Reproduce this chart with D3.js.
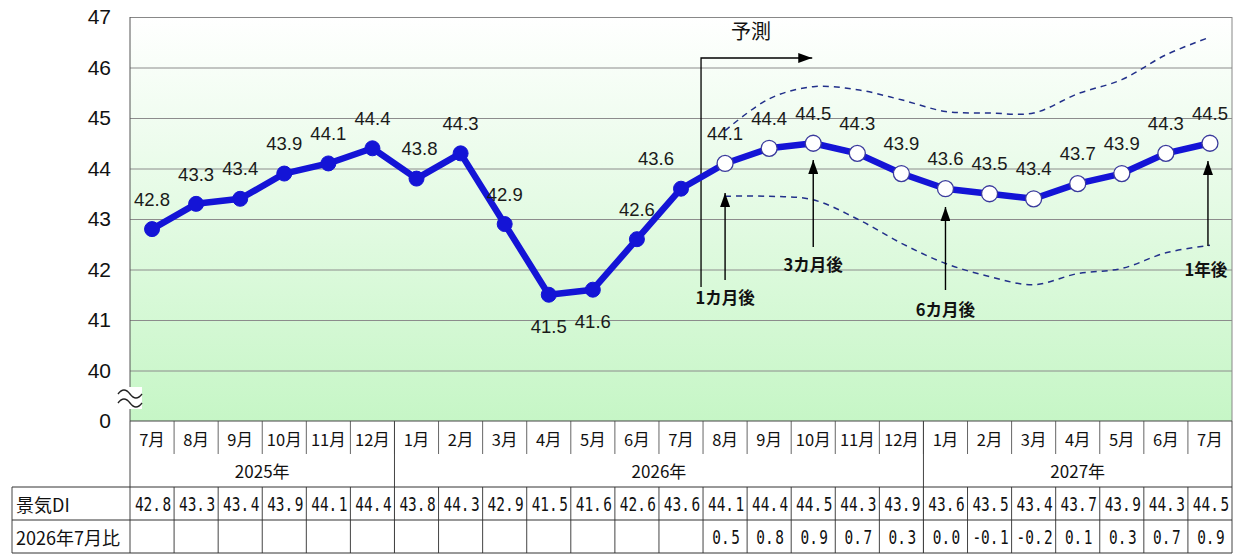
<!DOCTYPE html>
<html><head><meta charset="utf-8">
<script src="https://cdn.jsdelivr.net/npm/d3@7"></script>
<style>body{margin:0;background:#fff;} svg{display:block;}</style>
</head><body>
<svg id="c" width="1240" height="557"></svg>
<script>
// ---------- data ----------
const months = ["7月","8月","9月","10月","11月","12月","1月","2月","3月","4月","5月","6月","7月","8月","9月","10月","11月","12月","1月","2月","3月","4月","5月","6月","7月"];
const years = ["2025年","2026年","2027年"];
const yearSpans = [6, 12, 7];
const actualDI = [42.8,43.3,43.4,43.9,44.1,44.4,43.8,44.3,42.9,41.5,41.6,42.6,43.6];
const forecastDI = [44.1,44.4,44.5,44.3,43.9,43.6,43.5,43.4,43.7,43.9,44.3,44.5];
const ratioVs202607 = [null,null,null,null,null,null,null,null,null,null,null,null,null,0.5,0.8,0.9,0.7,0.3,0.0,-0.1,-0.2,0.1,0.3,0.7,0.9];
const upperBand = [44.75,45.38,45.62,45.56,45.36,45.13,45.1,45.1,45.48,45.76,46.25,46.6];
const lowerBand = [43.45,43.45,43.38,43.0,42.52,42.12,41.86,41.7,41.92,42.02,42.33,42.48];
const yTickValues = [39,40,41,42,43,44,45,46,47];
const yTickLabels = ["0","40","41","42","43","44","45","46","47"];
const rowLabels = ["景気DI","2026年7月比"];
const forecastLabel = "予測";
const horizonLabels = ["1カ月後","3カ月後","6カ月後","1年後"];
const horizonIndex = [13,15,18,24];

// ---------- layout ----------
const svg = d3.select("#c");
const L = 130, R = 1232, T = 17, B = 421;
const allDI = actualDI.concat(forecastDI);
const nA = actualDI.length;
const bandStart = nA;
const x = d3.scaleBand().domain(d3.range(months.length)).range([L, R]);
const y = d3.scaleLinear().domain([39, 47]).range([B, T]);
const cx = i => x(i) + x.bandwidth() / 2;
const latin = "'Liberation Sans', Arial, sans-serif";
const jp = "'Noto Sans CJK JP', sans-serif";
const mono = "'DejaVu Sans Mono', 'Liberation Mono', monospace";
const blue = "#1414d6";

const defs = svg.append("defs");
const grad = defs.append("linearGradient").attr("id", "bg")
  .attr("x1", 0).attr("y1", 0).attr("x2", 0).attr("y2", 1);
grad.append("stop").attr("offset", "0%").attr("stop-color", "#ffffff");
grad.append("stop").attr("offset", "100%").attr("stop-color", "#c6f6c6");
defs.append("marker").attr("id", "ah").attr("viewBox", "0 0 14 10")
  .attr("refX", 14).attr("refY", 5).attr("markerWidth", 14).attr("markerHeight", 10)
  .attr("markerUnits", "userSpaceOnUse").attr("orient", "auto")
  .append("path").attr("d", "M0,0 L14,5 L0,10 Z").attr("fill", "#000");

// plot background
svg.append("rect").attr("x", L).attr("y", T).attr("width", R - L).attr("height", B - T)
  .attr("fill", "url(#bg)");

// gridlines
svg.append("g").attr("transform", `translate(${L},0)`)
  .call(d3.axisLeft(y).tickValues(yTickValues.filter(v => v > 39 && v < 47)).tickSize(-(R - L)).tickFormat(""))
  .call(g => g.select(".domain").remove())
  .call(g => g.selectAll("line").attr("stroke", "#8c8c8c").attr("stroke-width", 1));

// borders
svg.append("line").attr("x1", L).attr("x2", R).attr("y1", T + 0.5).attr("y2", T + 0.5).attr("stroke", "#888");
svg.append("line").attr("x1", R).attr("x2", R).attr("y1", T).attr("y2", B).attr("stroke", "#888");
svg.append("line").attr("x1", L).attr("x2", L).attr("y1", T).attr("y2", B).attr("stroke", "#555");

// y tick labels
svg.append("g").attr("transform", `translate(${L},0)`)
  .call(d3.axisLeft(y).tickValues(yTickValues).tickSize(0).tickPadding(19)
    .tickFormat((d, i) => yTickLabels[i]))
  .call(g => g.select(".domain").remove())
  .call(g => g.selectAll("text").attr("font-family", latin).attr("font-size", 21).attr("fill", "#111"));

// axis break
svg.append("rect").attr("x", 117).attr("y", 387).attr("width", 25).attr("height", 22).attr("fill", "#fff");
[392, 401].forEach(yy => {
  svg.append("path").attr("d", `M118,${yy + 2} q6,-8 12,0 t12,0`)
    .attr("fill", "none").attr("stroke", "#222").attr("stroke-width", 1.4);
});

// forecast bands
const bandLine = d3.line().x((d, i) => cx(bandStart + i)).y(d => y(d)).curve(d3.curveCatmullRom.alpha(0.5));
[upperBand, lowerBand].forEach(b => {
  svg.append("path").attr("d", bandLine(b)).attr("fill", "none")
    .attr("stroke", "#22308a").attr("stroke-width", 1.5).attr("stroke-dasharray", "6,5");
});

// forecast start arrow
const fx = x(bandStart) - 2;
svg.append("path").attr("d", `M${fx},287 L${fx},58 L${cx(15) - 1},58`)
  .attr("fill", "none").attr("stroke", "#000").attr("stroke-width", 1.3).attr("marker-end", "url(#ah)");
svg.append("text").attr("x", 751).attr("y", 39).attr("text-anchor", "middle")
  .attr("font-family", jp).attr("font-size", 20).attr("fill", "#111").text(forecastLabel);

// main line
const line = d3.line().x((d, i) => cx(i)).y(d => y(d));
svg.append("path").attr("d", line(allDI)).attr("fill", "none")
  .attr("stroke", blue).attr("stroke-width", 6.5).attr("stroke-linejoin", "round");

// markers
svg.append("g").selectAll("circle").data(allDI).join("circle")
  .attr("cx", (d, i) => cx(i)).attr("cy", d => y(d))
  .attr("r", (d, i) => i < nA ? 7.5 : 8)
  .attr("fill", (d, i) => i < nA ? blue : "#fff")
  .attr("stroke", (d, i) => i < nA ? blue : "#3a3a9c")
  .attr("stroke-width", (d, i) => i < nA ? 1 : 1.3);

// data labels
const below = new Set([9, 10]);
const shiftX = {12: -25, 6: 3};
svg.append("g").selectAll("text").data(allDI).join("text")
  .attr("x", (d, i) => cx(i) + (shiftX[i] || 0))
  .attr("y", (d, i) => y(d) + (below.has(i) ? 32 : -30))
  .attr("dy", "0.36em").attr("text-anchor", "middle")
  .attr("font-family", latin).attr("font-size", 18.5).attr("fill", "#1a1a1a")
  .text(d => d.toFixed(1));

// horizon annotations
const ann = [
  {tip: 193, base: 280, ty: 298},
  {tip: 160, base: 247, ty: 265},
  {tip: 207, base: 290, ty: 310},
  {tip: 161, base: 246, ty: 270}
];
horizonIndex.forEach((idx, k) => {
  const ax = cx(idx) - (k === 3 ? 2 : 0);
  svg.append("line").attr("x1", ax).attr("x2", ax).attr("y1", ann[k].base).attr("y2", ann[k].tip)
    .attr("stroke", "#000").attr("stroke-width", 1.4).attr("marker-end", "url(#ah)");
  svg.append("text").attr("x", ax - (k === 3 ? 2 : 0)).attr("y", ann[k].ty).attr("dy", "0.36em")
    .attr("text-anchor", "middle").attr("font-family", jp).attr("font-weight", "bold")
    .attr("font-size", 16.5).attr("fill", "#111").text(horizonLabels[k]);
});

// ---------- table ----------
const tb = svg.append("g");
const rowMonth = [421, 454], rowYear = [454, 487], rowDI = [487, 520], rowRatio = [520, 553];
const TL = 12;
tb.selectAll("line.ms").data(d3.range(1, months.length)).join("line")
  .attr("x1", i => x(i)).attr("x2", i => x(i)).attr("y1", rowMonth[0]).attr("y2", rowMonth[1])
  .attr("stroke", "#666");
let acc = 0;
const yearBounds = [];
yearSpans.forEach(s => { yearBounds.push([acc, acc + s]); acc += s; });
yearBounds.slice(1).forEach(b => {
  tb.append("line").attr("x1", x(b[0])).attr("x2", x(b[0])).attr("y1", rowMonth[0]).attr("y2", rowRatio[1]).attr("stroke", "#444");
});
tb.selectAll("line.cs").data(d3.range(1, months.length)).join("line")
  .attr("x1", i => x(i)).attr("x2", i => x(i)).attr("y1", rowDI[0]).attr("y2", rowRatio[1])
  .attr("stroke", "#444");
tb.append("line").attr("x1", L).attr("x2", R).attr("y1", B).attr("y2", B).attr("stroke", "#444");
tb.append("line").attr("x1", L).attr("x2", L).attr("y1", B).attr("y2", rowRatio[1]).attr("stroke", "#444");
tb.append("line").attr("x1", R).attr("x2", R).attr("y1", B).attr("y2", rowRatio[1]).attr("stroke", "#444");
tb.append("line").attr("x1", TL).attr("x2", TL).attr("y1", rowDI[0]).attr("y2", rowRatio[1]).attr("stroke", "#444");
[rowDI[0], rowRatio[0], rowRatio[1]].forEach(yy => {
  tb.append("line").attr("x1", TL).attr("x2", R).attr("y1", yy).attr("y2", yy).attr("stroke", "#333");
});
tb.selectAll("text.m").data(months).join("text")
  .attr("x", (d, i) => cx(i)).attr("y", (rowMonth[0] + rowMonth[1]) / 2 + 1)
  .attr("dominant-baseline", "central").attr("text-anchor", "middle")
  .attr("font-family", jp).attr("font-size", 16.5).attr("fill", "#111").text(d => d);
yearBounds.forEach((b, k) => {
  tb.append("text").attr("x", (x(b[0]) + x(b[1] - 1) + x.bandwidth()) / 2)
    .attr("y", (rowYear[0] + rowYear[1]) / 2).attr("dominant-baseline", "central").attr("text-anchor", "middle")
    .attr("font-family", jp).attr("font-size", 17).attr("fill", "#111").text(years[k]);
});
[rowDI, rowRatio].forEach((r, k) => {
  tb.append("text").attr("x", 16).attr("y", (r[0] + r[1]) / 2).attr("dominant-baseline", "central")
    .attr("font-family", jp).attr("font-size", 18).attr("fill", "#111").text(rowLabels[k]);
});
function cellNumber(sel, row) {
  sel.each(function(d, i) {
    if (d === null) return;
    const s = d.toFixed(1);
    const dot = s.indexOf(".");
    const t = d3.select(this)
      .attr("transform", `translate(${cx(i) + 1},${(row[0] + row[1]) / 2 + 7}) scale(0.76,1)`)
      .attr("text-anchor", "middle").attr("font-family", mono).attr("font-size", 19).attr("fill", "#111");
    t.append("tspan").text(s.slice(0, dot + 1));
    t.append("tspan").attr("dx", 2).text(s.slice(dot + 1));
  });
}
tb.selectAll("text.v").data(allDI).join("text").call(cellNumber, rowDI);
tb.selectAll("text.r").data(ratioVs202607).join("text").call(cellNumber, rowRatio);
</script>
</body></html>
